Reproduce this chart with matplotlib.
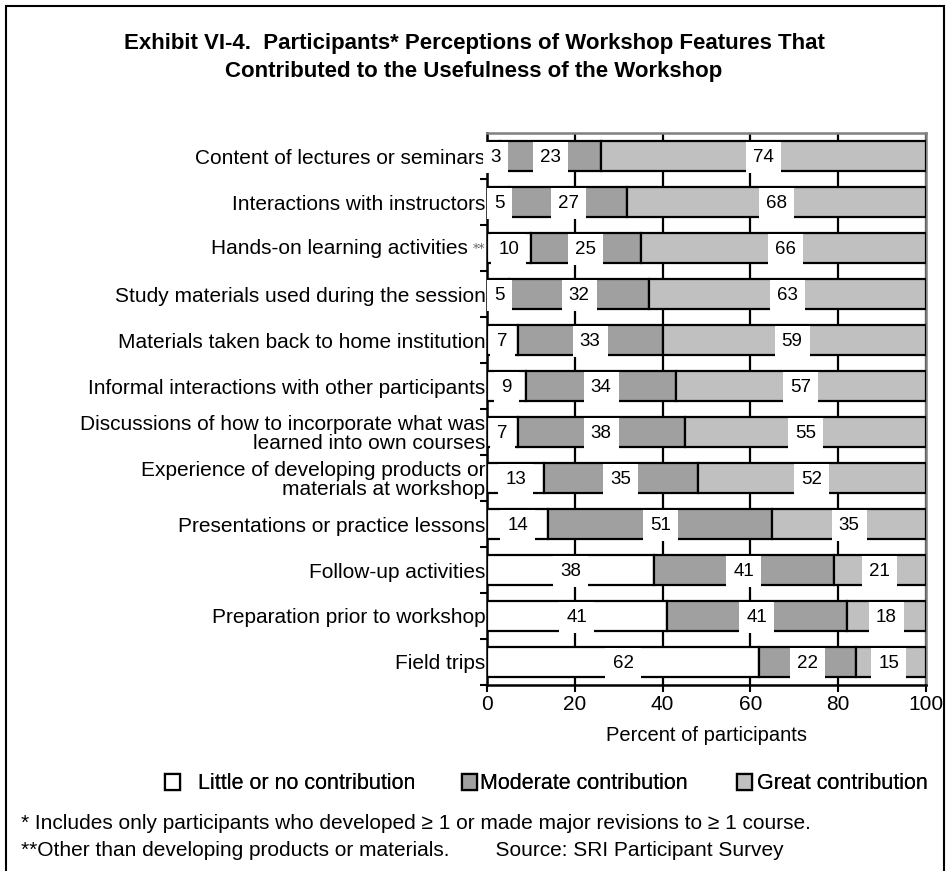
import matplotlib
matplotlib.use("Agg")
import matplotlib.pyplot as plt
from matplotlib.patches import Rectangle, Patch

plt.rcParams['font.family'] = ['Liberation Sans', 'DejaVu Sans']

# categories, top to bottom
categories = [
    "Content of lectures or seminars",
    "Interactions with instructors",
    "Hands-on learning activities",
    "Study materials used during the session",
    "Materials taken back to home institution",
    "Informal interactions with other participants",
    "Discussions of how to incorporate what was\nlearned into own courses",
    "Experience of developing products or\nmaterials at workshop",
    "Presentations or practice lessons",
    "Follow-up activities",
    "Preparation prior to workshop",
    "Field trips",
]
little = [3, 5, 10, 5, 7, 9, 7, 13, 14, 38, 41, 62]
moderate = [23, 27, 25, 32, 33, 34, 38, 35, 51, 41, 41, 22]
great = [74, 68, 66, 63, 59, 57, 55, 52, 35, 21, 18, 15]
series_names = ["Little or no contribution", "Moderate contribution", "Great contribution"]
colors = ["white", "#a0a0a0", "#c0c0c0"]

fig = plt.figure(figsize=(9.5, 8.71), dpi=100)
ax = fig.add_axes([0.5126, 0.2136, 0.4621, 0.6334])

n = len(categories)
ypos = list(range(n))
left = [0] * n
for k, (vals, col) in enumerate(zip([little, moderate, great], colors)):
    # last segment runs to 100% (rounded values don't always sum to 100)
    widths = [100 - l for l in left] if k == 2 else vals
    ax.barh(ypos, widths, left=left, height=0.65, color=col, edgecolor="black",
            linewidth=1.6, zorder=3)
    for y, l, v in zip(ypos, left, vals):
        cx = l + v / 2
        if v <= 5:
            cx = l + v / 2 + 0.4
        ax.text(cx, y + 0.03, str(v), ha="center", va="center", fontsize=13.5, zorder=5,
                bbox=dict(boxstyle="square,pad=0.38", facecolor="white", edgecolor="none"))
    left = [a + b for a, b in zip(left, widths)]

ax.set_xlim(0, 100)
ax.set_ylim(n - 0.5, -0.5)
ax.set_xticks([0, 20, 40, 60, 80, 100])
ax.tick_params(axis="x", labelsize=15, length=5, width=1.5, direction="out", pad=2)
ax.set_yticks(ypos)
ylabels = list(categories)
ylabels[2] = ""  # drawn separately with the ** mark
ax.set_yticklabels(ylabels, fontsize=15, linespacing=1.0)
ax.tick_params(axis="y", length=0, pad=1)
# minor ticks between rows
ax.set_yticks([y + 0.5 for y in ypos], minor=True)
ax.tick_params(axis="y", which="minor", length=5, width=1.5, direction="out")

for lbl in ax.get_yticklabels():
    lbl.set_multialignment("right")
ax.annotate(categories[2], xy=(0, 2), xytext=(-13.5, 0), textcoords="offset points",
            ha="right", va="center", fontsize=15, annotation_clip=False)
ax.annotate("**", xy=(0, 2), xytext=(-1, -1), textcoords="offset points",
            ha="right", va="center", fontsize=9, color="#666666", family="DejaVu Serif",
            annotation_clip=False)

ax.xaxis.grid(True, color="black", linewidth=1.6, zorder=0)
ax.set_axisbelow(True)
for side in ["left", "bottom"]:
    ax.spines[side].set_linewidth(1.8)
for side in ["top", "right"]:
    ax.spines[side].set_color("#808080")
    ax.spines[side].set_linewidth(1.8)

ax.set_xlabel("Percent of participants", fontsize=14.5, labelpad=9)

fig.text(0.499, 0.934, "Exhibit VI-4.  Participants* Perceptions of Workshop Features That\n"
         "Contributed to the Usefulness of the Workshop",
         ha="center", va="center", fontsize=16, fontweight="bold", linespacing=1.45)

# legend entries are spaced unevenly in the original, so one legend per entry
leg_x = [165 / 950, 462 / 950, 737 / 950]
leg_pad = [0.84, 0.12, 0.25]
for name, col, x0, tp in zip(series_names, colors, leg_x, leg_pad):
    h = Patch(facecolor=col, edgecolor="black", linewidth=1.6)
    leg = fig.legend([h], [name], loc="center left", bbox_to_anchor=(x0, 0.1),
                     frameon=False, fontsize=15.5, handlelength=0.7, handleheight=0.75,
                     handletextpad=tp, borderpad=0, borderaxespad=0)
    fig.add_artist(leg)

fig.text(0.022, 0.055, "* Includes only participants who developed \u2265 1 or made major revisions to \u2265 1 course.",
         fontsize=15, va="center")
fig.text(0.022, 0.023, "**Other than developing products or materials.        Source: SRI Participant Survey",
         fontsize=15, va="center")

fig.patches.append(Rectangle((0.006, -0.01), 0.988, 1.003, transform=fig.transFigure,
                             fill=False, edgecolor="black", linewidth=1.5))

fig.savefig("out.png", dpi=100)
